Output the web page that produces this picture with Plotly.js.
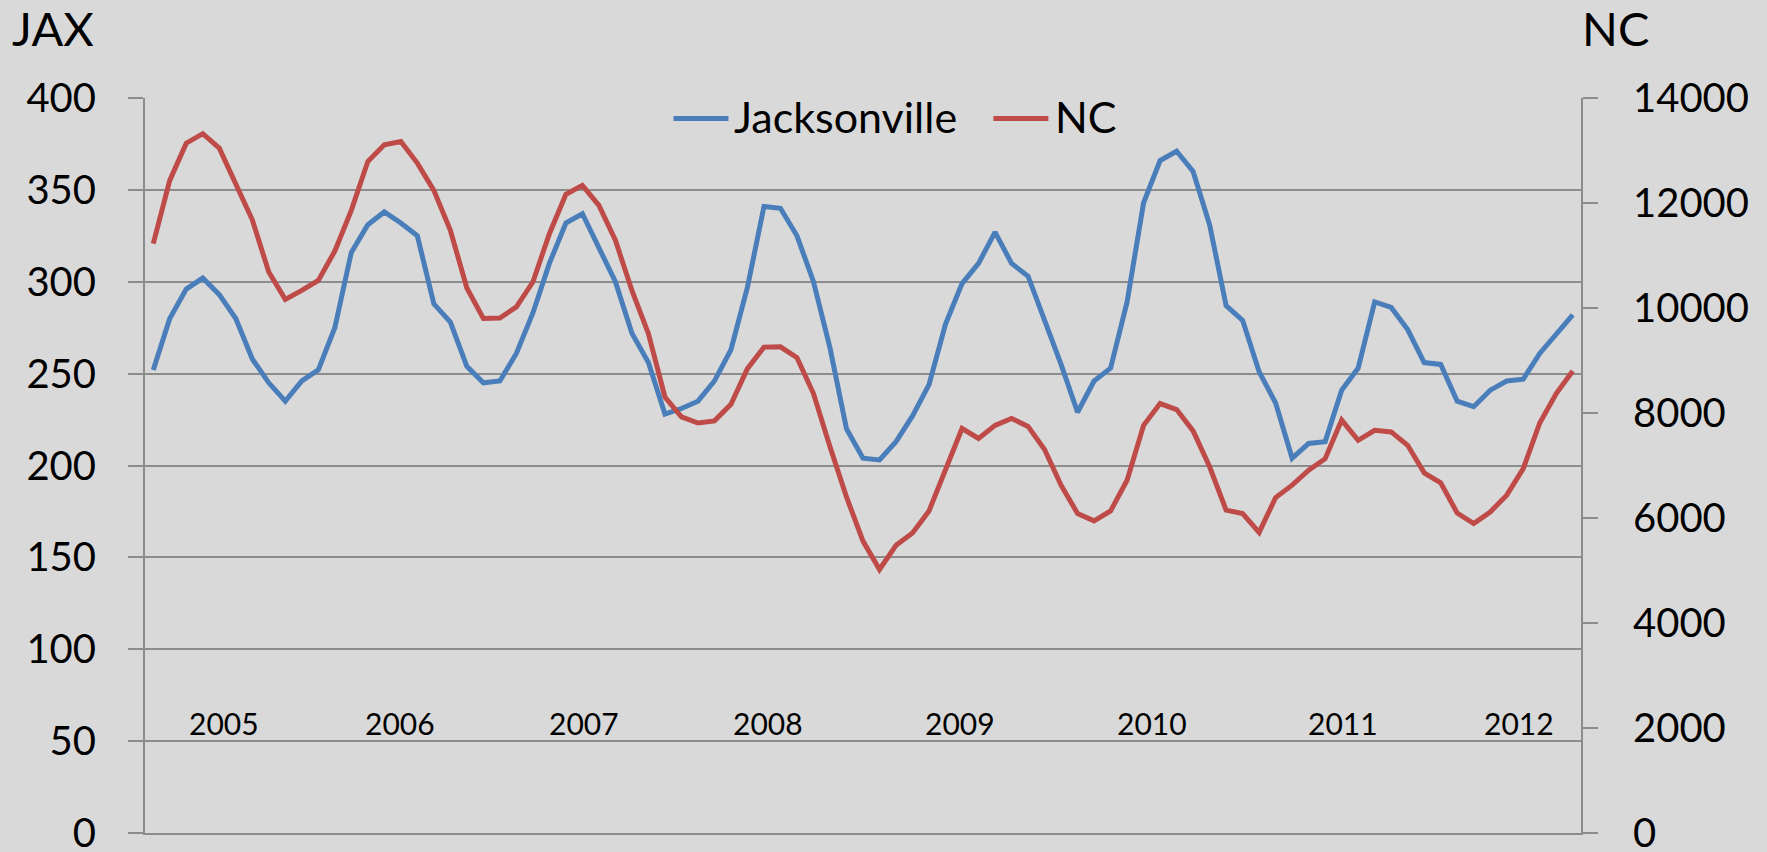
<!DOCTYPE html>
<html>
<head>
<meta charset="utf-8">
<script src="https://cdn.plot.ly/plotly-3.0.1.min.js"></script>
<style>
  html, body { margin: 0; padding: 0; background: #d9d9d9; }
  #chart { width: 1767px; height: 852px; }
</style>
</head>
<body>
<div id="chart"></div>
<script>
// Monthly values, Jan 2005 .. Mar 2012 (87 months)
const jaxValues = [
  252, 280, 296, 302, 293, 280, 258, 245, 235, 246, 252, 275,
  316, 331, 338, 332, 325, 288, 278, 254, 245, 246, 261, 283,
  310, 332, 337, 319, 300, 272, 256, 228, 231, 235, 246, 263,
  297, 341, 340, 325, 300, 264, 220, 204, 203, 213, 227, 244,
  277, 299, 310, 327, 310, 303, 279, 255, 229, 246, 253, 289,
  343, 366, 371, 360, 331, 287, 279, 251, 234, 204, 212, 213,
  241, 253, 289, 286, 274, 256, 255, 235, 232, 241, 246, 247,
  261, 272, 282
];
const ncValues = [
  11225, 12430, 13140, 13320, 13045, 12370, 11680, 10685, 10165, 10335, 10525, 11085,
  11860, 12790, 13110, 13170, 12760, 12240, 11480, 10380, 9800, 9810, 10020, 10495,
  11415, 12165, 12335, 11955, 11290, 10335, 9510, 8305, 7925, 7810, 7850, 8165,
  8845, 9255, 9260, 9055, 8370, 7355, 6400, 5560, 5020, 5480, 5715, 6135,
  6940, 7705, 7515, 7765, 7895, 7745, 7305, 6625, 6085, 5945, 6135, 6720,
  7765, 8180, 8065, 7660, 6975, 6150, 6085, 5725, 6390, 6625, 6910, 7130,
  7865, 7480, 7670, 7640, 7385, 6860, 6670, 6095, 5895, 6115, 6435, 6940,
  7810, 8370, 8800
];
const yearLabels = ["2005", "2006", "2007", "2008", "2009", "2010", "2011", "2012"];
const seriesNames = ["Jacksonville", "NC"];
const seriesColors = ["#4a7ebb", "#be4b48"];
const leftTitle = "JAX";
const rightTitle = "NC";

// category index for each month
const monthIndex = jaxValues.map((_, i) => i);

const FONT = "Lato, 'Open Sans', sans-serif";
const GRID = "#8c8c8c";
const BG = "#d9d9d9";

const traces = [
  {
    x: monthIndex, y: jaxValues, name: seriesNames[0], type: "scatter", mode: "lines",
    line: { color: seriesColors[0], width: 5 }, yaxis: "y", showlegend: false
  },
  {
    x: monthIndex, y: ncValues, name: seriesNames[1], type: "scatter", mode: "lines",
    line: { color: seriesColors[1], width: 5 }, yaxis: "y2", showlegend: false
  }
];

// positions (in category index units) where the year labels sit
const yearLabelX = [4.28, 14.93, 26.1, 37.24, 48.86, 60.53, 72.1, 82.77];

const annotations = yearLabels.map((t, k) => ({
  text: t, x: yearLabelX[k], y: 60, xref: "x", yref: "y",
  showarrow: false, xanchor: "center", yanchor: "middle",
  font: { family: FONT, size: 30, color: "#000" }
}));
annotations.push({
  text: leftTitle, xref: "paper", yref: "paper", x: -0.094, y: 1.095,
  xanchor: "left", yanchor: "middle", showarrow: false,
  font: { family: FONT, size: 47, color: "#000" }
});
annotations.push({
  text: rightTitle, xref: "paper", yref: "paper", x: 0.999, y: 1.095,
  xanchor: "left", yanchor: "middle", showarrow: false,
  font: { family: FONT, size: 47, color: "#000" }
});

// legend (drawn as line keys + labels)
const legendLineX = [[0.368, 0.4063], [0.5908, 0.6291]];
const legendTextX = [0.4091, 0.6326];
const legendY = 0.9721;
const shapes = [];
seriesNames.forEach((n, k) => {
  shapes.push({
    type: "line", xref: "paper", yref: "paper",
    x0: legendLineX[k][0], x1: legendLineX[k][1], y0: legendY, y1: legendY,
    line: { color: seriesColors[k], width: 5 }
  });
  annotations.push({
    text: n, xref: "paper", yref: "paper", x: legendTextX[k], y: legendY + 0.003,
    xanchor: "left", yanchor: "middle", showarrow: false,
    font: { family: FONT, size: 43, color: "#000" }
  });
});

const layout = {
  width: 1767, height: 852,
  paper_bgcolor: BG, plot_bgcolor: BG,
  margin: { l: 144.5, r: 186.3, t: 97.5, b: 19, pad: 0 },
  font: { family: FONT, color: "#000" },
  showlegend: false,
  xaxis: {
    range: [-0.5, 86.5], showgrid: false, zeroline: false, showticklabels: false,
    ticks: "", showline: true, linecolor: GRID, linewidth: 2, fixedrange: true
  },
  yaxis: {
    range: [0, 400], dtick: 50, tick0: 0, showgrid: true, gridcolor: GRID, gridwidth: 2,
    zeroline: false, showline: true, linecolor: GRID, linewidth: 2,
    ticks: "outside", ticklen: 15, tickwidth: 2, tickcolor: GRID,
    ticklabelstandoff: 24, ticklabeloverflow: "allow",
    tickfont: { family: FONT, size: 40, color: "#000" }, fixedrange: true
  },
  yaxis2: {
    range: [0, 14000], dtick: 2000, tick0: 0, overlaying: "y", side: "right",
    showgrid: false, zeroline: false, showline: true, linecolor: GRID, linewidth: 2,
    ticks: "outside", ticklen: 15, tickwidth: 2, tickcolor: GRID,
    ticklabelstandoff: 27, ticklabeloverflow: "allow", tickformat: "d",
    tickfont: { family: FONT, size: 40, color: "#000" }, fixedrange: true
  },
  shapes: shapes,
  annotations: annotations
};

Plotly.newPlot("chart", traces, layout, { staticPlot: true, displayModeBar: false });
</script>
</body>
</html>
